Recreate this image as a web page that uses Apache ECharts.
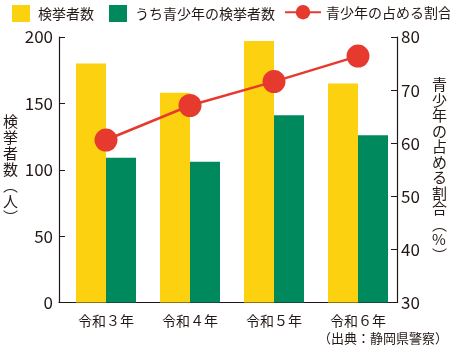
<!DOCTYPE html>
<html><head><meta charset="utf-8">
<script src="https://cdn.jsdelivr.net/npm/echarts@6/dist/echarts.min.js"></script>
<style>html,body{margin:0;padding:0;background:#fff}#c{width:450px;height:345px}</style>
</head><body><div id="c"></div>
<script>
const categories = ['令和３年', '令和４年', '令和５年', '令和６年'];
const arrests = [180, 158, 197, 165];
const youthArrests = [109, 106, 141, 126];
const youthShare = [60.6, 67.1, 71.6, 76.4];
const leftTicks = [0, 50, 100, 150, 200];
const rightTicks = [30, 40, 50, 60, 70, 80];

const FONT = '"Noto Sans CJK JP", "Noto Sans", sans-serif';
const TXT = '#231815';
const YELLOW = '#FCD10F', GREEN = '#00895C', RED = '#E63A2E';
const vert = s => s.split('').join('\n');

const chart = echarts.init(document.getElementById('c'), null, {renderer: 'canvas'});
const gridTop = 37, gridBottom = 42.5;
chart.setOption({
  animation: false,
  textStyle: {fontFamily: FONT, color: TXT},
  legend: [
    {left: 7, top: 0, itemWidth: 18, itemHeight: 17, itemGap: 15,
     icon: 'rect', data: ['検挙者数', 'うち青少年の検挙者数'],
     textStyle: {fontFamily: FONT, fontSize: 14, color: TXT, padding: [0, 0, 0, 3]}},
    {left: 279, top: 0, itemWidth: 36, itemHeight: 18,
     data: ['青少年の占める割合'],
     textStyle: {fontFamily: FONT, fontSize: 14, color: TXT}}
  ],
  grid: [
    {left: 57.5, right: 47, top: gridTop, bottom: gridBottom},
    {left: 64, right: 50, top: gridTop, bottom: gridBottom}
  ],
  xAxis: [
    {gridIndex: 0, type: 'category', data: categories,
     axisLine: {lineStyle: {color: TXT, width: 1.2}}, axisTick: {show: false}, axisLabel: {show: false}},
    {gridIndex: 1, type: 'category', data: categories,
     axisLine: {show: false}, axisTick: {show: false},
     axisLabel: {fontFamily: FONT, fontSize: 14, color: TXT, margin: 11}}
  ],
  yAxis: [
    {gridIndex: 0, type: 'value', position: 'left', min: leftTicks[0], max: leftTicks[leftTicks.length - 1], interval: 50,
     splitLine: {show: false},
     axisLine: {show: true, lineStyle: {color: TXT, width: 1.2}},
     axisTick: {show: true, inside: true, length: 6, lineStyle: {color: TXT}},
     axisLabel: {fontFamily: FONT, fontSize: 17, color: TXT, margin: 6},
     name: vert('検挙者数︵人︶'), nameLocation: 'middle', nameRotate: 0, nameGap: 41,
     nameTextStyle: {fontFamily: FONT, fontSize: 15, lineHeight: 16, color: TXT, padding: [0, 0, 20, 0]}},
    {gridIndex: 0, type: 'value', position: 'right', min: rightTicks[0], max: rightTicks[rightTicks.length - 1], interval: 10,
     splitLine: {show: false},
     axisLine: {show: true, lineStyle: {color: TXT, width: 1.2}},
     axisTick: {show: true, inside: true, length: 6, lineStyle: {color: TXT}},
     axisLabel: {fontFamily: FONT, fontSize: 17, color: TXT, margin: 4},
     name: vert('青少年の占める割合︵%︶'), nameLocation: 'middle', nameRotate: 0, nameGap: 35,
     nameTextStyle: {fontFamily: FONT, fontSize: 15, lineHeight: 15.5, color: TXT, padding: [0, 0, 52, 0]}},
    {gridIndex: 1, type: 'value', min: 0, max: 200, show: false},
    {gridIndex: 1, type: 'value', min: 30, max: 80, show: false}
  ],
  series: [
    {name: '検挙者数', type: 'bar', xAxisIndex: 1, yAxisIndex: 2, data: arrests,
     barWidth: 30, barGap: '0%', itemStyle: {color: YELLOW}},
    {name: 'うち青少年の検挙者数', type: 'bar', xAxisIndex: 1, yAxisIndex: 2, data: youthArrests,
     barWidth: 30, barGap: '0%', itemStyle: {color: GREEN}},
    {name: '青少年の占める割合', type: 'line', xAxisIndex: 1, yAxisIndex: 3, data: youthShare,
     symbol: 'circle', symbolSize: 23, lineStyle: {color: RED, width: 2.5},
     itemStyle: {color: RED}}
  ],
  graphic: [
    {type: 'text', right: 2, bottom: 0,
     style: {text: '（出典：静岡県警察）', font: '13px ' + FONT, fill: TXT}}
  ]
});
</script></body></html>
